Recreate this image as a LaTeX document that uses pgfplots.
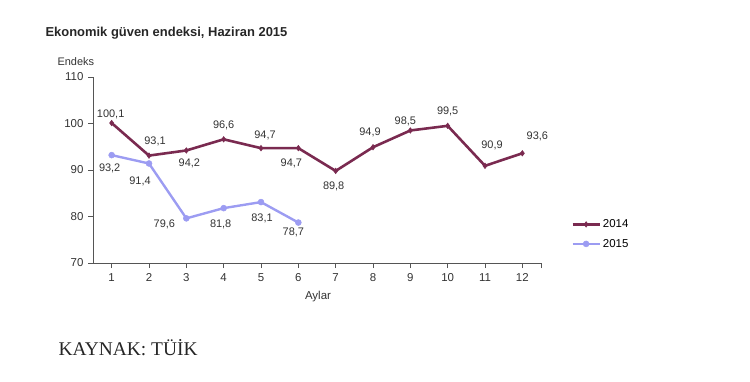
\documentclass[border=0pt]{standalone}
\usepackage{pgfplots}
\pgfplotsset{compat=1.18}
\usepackage{pgfplotstable}
\usepackage{fontspec}
\setmainfont{Liberation Sans}
\newfontfamily\seriffont{Liberation Serif}
\definecolor{c14}{HTML}{7A2A50}
\definecolor{c15}{HTML}{9C9CF2}
\definecolor{axc}{HTML}{555555}

\pgfplotstableread{
x y dx dy
1 100.1 -1 -9
2 93.1 6 -14
3 94.2 3 13
4 96.6 0 -14
5 94.7 4 -13
6 94.7 -7 15
7 89.8 -2 15
8 94.9 -3 -15
9 98.5 -5 -9
10 99.5 0 -14
11 90.9 7 -20
12 93.6 15 -17
}\tA

\pgfplotstableread{
x y dx dy
1 93.2 -2 13
2 91.4 -9 18
3 79.6 -22 6
4 81.8 -3 16
5 83.1 1 16
6 78.7 -5 10
}\tB

\begin{document}
\begin{tikzpicture}[x=1bp,y=1bp]
\path[use as bounding box] (0,0) rectangle (750,381);
\begin{axis}[
  at={(93bp,118bp)}, anchor=south west,
  scale only axis, width=448bp, height=186bp,
  xmin=0.5, xmax=12.5, ymin=70, ymax=110,
  axis lines*=left,
  axis line style={axc, line width=0.9pt},
  xtick={1,...,12}, ytick={70,80,...,110},
  extra x ticks={12.5}, extra x tick labels={},
  tick align=outside, tick pos=left,
  major tick length=5bp,
  tick style={axc, line width=0.9pt},
  /pgf/number format/assume math mode=true,
  ticklabel style={font=\fontsize{11.5}{13}\selectfont, text=black!80},
  xticklabel style={yshift=-2bp},
  yticklabel style={xshift=-1bp},
  clip=false,
  legend style={draw=none, fill=none, at={(rel axis cs:1.065,0.155)}, anchor=west,
    font=\fontsize{11.5}{13}\selectfont, row sep=6bp, inner sep=1bp,
    /tikz/every even column/.append style={column sep=1bp}},
  legend cell align=left,
  legend image code/.code={\draw[#1] (0bp,0bp) -- (27bp,0bp); \draw[#1, mark repeat=1] plot coordinates {(13.5bp,0bp)};},
  nodes near coords={\pgfmathprintnumber[fixed,fixed zerofill,precision=1,use comma,assume math mode=true]{\pgfplotspointmeta}},
  point meta=y,
  visualization depends on={\thisrow{dx} \as \dx},
  visualization depends on={\thisrow{dy} \as \dy},
  every node near coord/.append style={anchor=center, xshift=\dx bp, yshift=-\dy bp,
    font=\fontsize{11}{13}\selectfont, text=black!80, inner sep=0pt},
]
\addplot[c14, line width=2.6pt, mark=diamond*, mark size=2.8pt, mark options={line width=0.5pt}] table[x=x,y=y] {\tA};
\addlegendentry{2014}
\addplot[c15, line width=2.4pt, mark=*, mark size=3pt, mark options={line width=0.5pt}] table[x=x,y=y] {\tB};
\addlegendentry{2015}
\end{axis}
\node[anchor=west, font=\bfseries\fontsize{13}{15}\selectfont, text=black!85] at (42,348) {Ekonomik güven endeksi, Haziran 2015};
\node[anchor=west, font=\fontsize{11}{13}\selectfont, text=black!80] at (54,319) {Endeks};
\node[font=\fontsize{11.5}{13}\selectfont, text=black!80] at (318,84) {Aylar};
\node[anchor=west, font=\seriffont\fontsize{19.5}{22}\selectfont, text=black!85] at (55,33) {KAYNAK: TÜİK};
\end{tikzpicture}
\end{document}
